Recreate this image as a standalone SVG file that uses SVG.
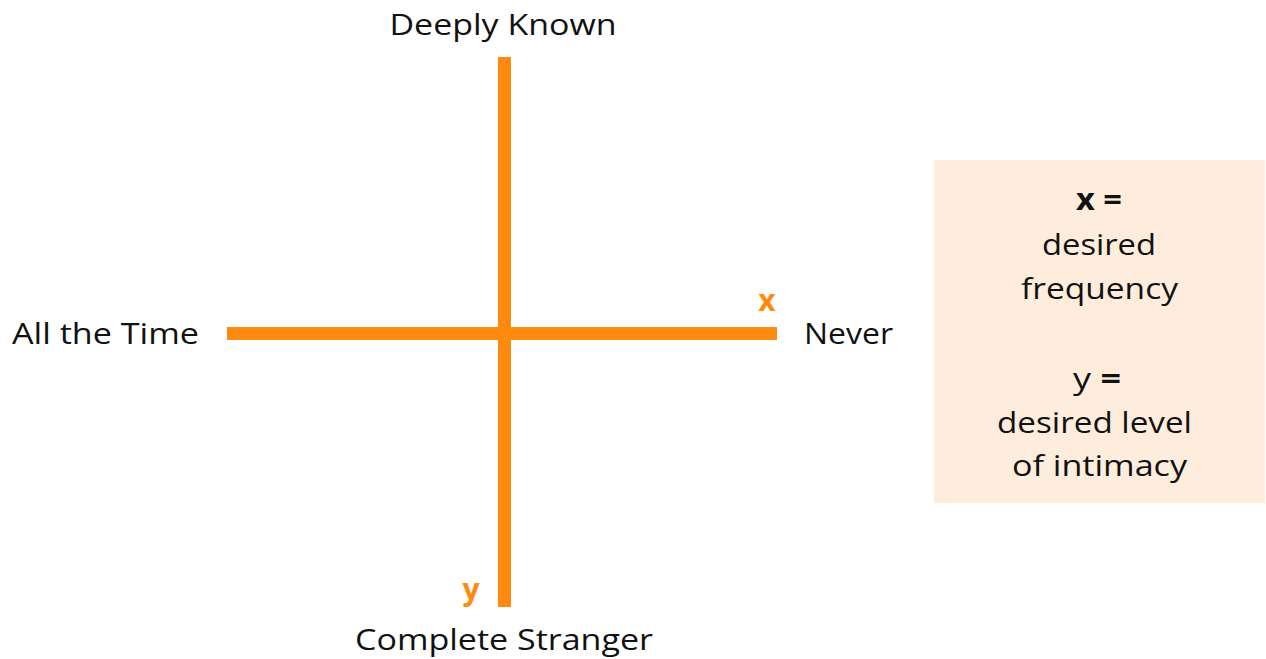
<svg xmlns="http://www.w3.org/2000/svg" width="1266" height="659" viewBox="0 0 1266 659">
<style>
.t{font-family:"Open Sans","Liberation Sans",sans-serif;font-size:30px;fill:#111;}
.c{text-anchor:middle;}
.b{font-weight:bold;}
.o{fill:#FF8A10;font-weight:bold;}
.ax{stroke:#FF8A10;stroke-width:13;fill:none;}
</style>
<rect width="1266" height="659" fill="#fff"/>
<g id="connectors">
<line class="ax" x1="227" y1="333.5" x2="777" y2="333.5"/>
<line class="ax" x1="504.5" y1="57" x2="504.5" y2="607"/>
</g>
<g id="top"><text class="t c" x="503" y="35" textLength="227" lengthAdjust="spacingAndGlyphs">Deeply Known</text></g>
<g id="left"><text class="t" x="12" y="344" textLength="187" lengthAdjust="spacingAndGlyphs">All the Time</text></g>
<g id="right"><text class="t" x="804" y="344" textLength="89" lengthAdjust="spacingAndGlyphs">Never</text></g>
<g id="bottom"><text class="t c" x="504" y="650" textLength="298" lengthAdjust="spacingAndGlyphs">Complete Stranger</text></g>
<g id="xlabel"><text class="t o c" x="767" y="311">x</text></g>
<g id="ylabel"><text class="t o c" x="471" y="600">y</text></g>
<g id="legend">
<rect x="934" y="160" width="331" height="343" fill="#FEEDDC"/>
<text class="t c" x="1099" y="210" textLength="46" lengthAdjust="spacingAndGlyphs"><tspan class="b">x =</tspan></text>
<text class="t c" x="1099" y="255" textLength="114" lengthAdjust="spacingAndGlyphs">desired</text>
<text class="t c" x="1099.5" y="299" textLength="157" lengthAdjust="spacingAndGlyphs">frequency</text>
<text class="t c" x="1097" y="389" textLength="48" lengthAdjust="spacingAndGlyphs">y <tspan class="b">=</tspan></text>
<text class="t c" x="1094.5" y="433" textLength="195" lengthAdjust="spacingAndGlyphs">desired level</text>
<text class="t c" x="1099.5" y="476" textLength="175" lengthAdjust="spacingAndGlyphs">of intimacy</text>
</g>
</svg>
